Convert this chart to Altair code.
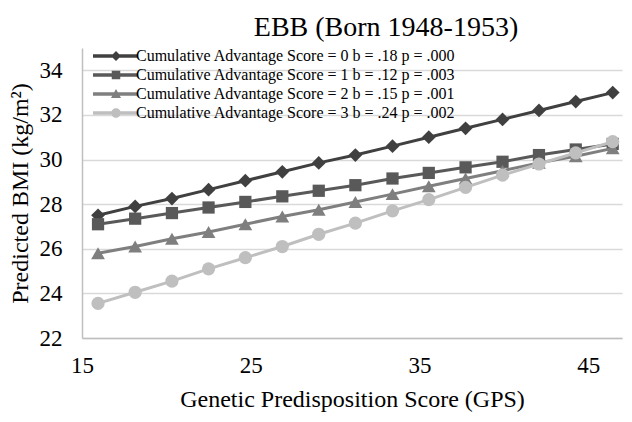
import altair as alt
import pandas as pd

series_names = [
    "Cumulative Advantage Score = 0 b = .18 p = .000",
    "Cumulative Advantage Score = 1 b = .12 p = .003",
    "Cumulative Advantage Score = 2 b = .15 p = .001",
    "Cumulative Advantage Score = 3 b = .24 p = .002",
]
gps = [15.95, 18.15, 20.33, 22.5, 24.68, 26.87, 29.03, 31.2, 33.4, 35.55, 37.73, 39.92, 42.08, 44.26, 46.45]
bmi0 = [27.5, 27.9, 28.25, 28.65, 29.05, 29.45, 29.85, 30.2, 30.6, 31.0, 31.4, 31.8, 32.2, 32.6, 33.0]
bmi1 = [27.1, 27.35, 27.6, 27.85, 28.1, 28.35, 28.6, 28.85, 29.15, 29.4, 29.65, 29.9, 30.2, 30.45, 30.7]
bmi2 = [25.8, 26.1, 26.45, 26.75, 27.1, 27.45, 27.75, 28.1, 28.45, 28.8, 29.15, 29.5, 29.85, 30.15, 30.5]
bmi3 = [23.55, 24.05, 24.55, 25.1, 25.6, 26.1, 26.65, 27.15, 27.7, 28.2, 28.75, 29.3, 29.8, 30.3, 30.8]
x_ticks = [15, 25, 35, 45]
y_ticks = [22, 24, 26, 28, 30, 32, 34]

colors = ["#404040", "#595959", "#7f7f7f", "#bfbfbf"]
shapes = ["diamond", "square", "triangle-up", "circle"]
sizes = [190, 150, 190, 175]

# legend symbols: a horizontal line with the marker in the middle (unit = 5 px)
bar = "M-4.6,-0.35 L4.4,-0.35 L4.4,0.35 L-4.6,0.35 Z "
legend_paths = [
    bar + "M0,-1.0 L1.0,0 L0,1.0 L-1.0,0 Z",
    bar + "M-0.85,-0.85 L0.85,-0.85 L0.85,0.85 L-0.85,0.85 Z",
    bar + "M0,-1.0 L1.0,0.8 L-1.0,0.8 Z",
    bar + "M0.95,0 A0.95,0.95 0 1,1 -0.95,0 A0.95,0.95 0 1,1 0.95,0 Z",
]

rows = []
for name, vals in zip(series_names, [bmi0, bmi1, bmi2, bmi3]):
    for g, v in zip(gps, vals):
        rows.append({"series": name, "gps": g, "bmi": v})
df = pd.DataFrame(rows)

FONT = "Liberation Serif"

x_enc = alt.X(
    "gps:Q",
    scale=alt.Scale(domain=[15, 47], nice=False),
    axis=alt.Axis(
        values=x_ticks, grid=False, ticks=False, domainColor="#bfbfbf", domainWidth=1.5,
        labelFont=FONT, labelFontSize=23, labelColor="black", labelPadding=16, labelFlush=False,
        title="Genetic Predisposition Score (GPS)", titleFont=FONT, titleFontSize=24,
        titleFontWeight="normal", titleColor="black", titlePadding=10,
    ),
)
y_enc = alt.Y(
    "bmi:Q",
    scale=alt.Scale(domain=[22, 35], nice=False),
    axis=alt.Axis(
        values=y_ticks, grid=True, gridColor="#d9d9d9", gridWidth=1.3, ticks=False,
        domainColor="#bfbfbf", domainWidth=1.5,
        labelFont=FONT, labelFontSize=23, labelColor="black", labelPadding=20, labelFlush=False,
        title="Predicted BMI (kg/m²)", titleFont=FONT, titleFontSize=24,
        titleFontWeight="normal", titleColor="black", titleX=-55, titleBaseline="alphabetic",
    ),
)

layers = []
for name, col, shp, sz in zip(series_names, colors, shapes, sizes):
    base = alt.Chart(df).transform_filter(alt.datum.series == name)
    layers.append(base.mark_line(strokeWidth=3, color=col).encode(x=x_enc, y=y_enc))
    layers.append(
        base.mark_point(shape=shp, filled=True, size=sz, opacity=1, strokeWidth=0, color=col)
        .encode(x="gps:Q", y="bmi:Q")
    )

leg = alt.Legend(
    title=None, orient="none", legendX=26, legendY=0, padding=0,
    labelFont=FONT, labelFontSize=16, labelColor="black", labelOffset=12,
    symbolSize=100, symbolStrokeWidth=0, rowPadding=3, labelLimit=600,
)
legend_layer = (
    alt.Chart(df)
    .mark_point(filled=True, opacity=1, size=0)
    .encode(
        x="gps:Q", y="bmi:Q",
        color=alt.Color("series:N", scale=alt.Scale(domain=series_names, range=colors), legend=leg),
        shape=alt.Shape("series:N", scale=alt.Scale(domain=series_names, range=legend_paths), legend=leg),
    )
)

chart = (
    alt.layer(*layers, legend_layer)
    .properties(
        width=540, height=290,
        title=alt.TitleParams("EBB (Born 1948-1953)", font=FONT, fontSize=28, fontWeight="normal",
                              color="black", anchor="middle", dx=34, offset=6, frame="group"),
        autosize=alt.AutoSizeParams(type="none"),
        padding={"left": 74, "top": 40, "right": 2, "bottom": 76},
    )
    .configure(background="white")
    .configure_view(stroke=None)
)

chart.save("out.html", embed_options={"renderer": "svg", "actions": False})
